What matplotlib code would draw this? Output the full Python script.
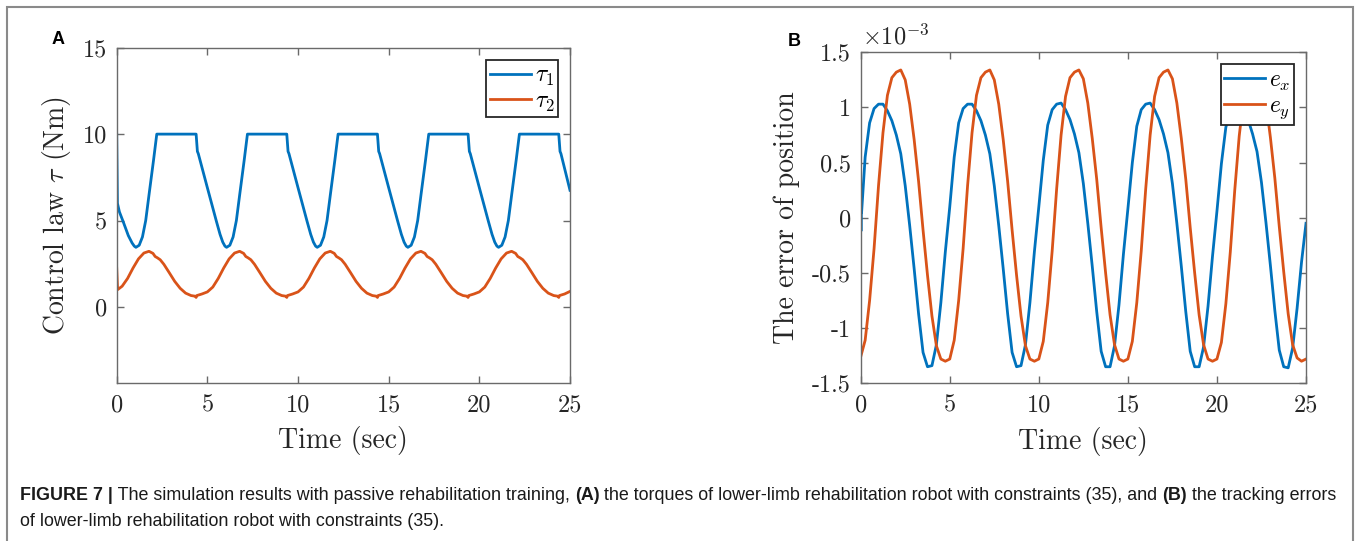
import numpy as np
import matplotlib.pyplot as plt
from matplotlib import font_manager
from matplotlib.patches import Rectangle

plt.rcParams['mathtext.fontset'] = 'cm'
plt.rcParams['axes.unicode_minus'] = False

BLUE = '#0072BD'
ORANGE = '#D95319'
AXIS_GRAY = '#6a6a6a'
TEXT_COLOR = '#262626'

# ---- panel A: control law (Nm) ----
t_tau1 = [0, 0.04, 0.15, 0.37, 0.64, 0.85, 0.97, 1.06, 1.24, 1.42, 1.6, 1.79, 2.03, 2.21,
          4.38, 4.45, 4.5, 5.0, 5.5, 5.7, 5.85, 5.97, 6.06, 6.24, 6.42, 6.6, 6.79, 7.03, 7.21,
          9.38, 9.45, 9.5, 10.0, 10.5, 10.7, 10.85, 10.97, 11.06, 11.24, 11.42, 11.6, 11.79, 12.03, 12.21,
          14.38, 14.45, 14.5, 15.0, 15.5, 15.7, 15.85, 15.97, 16.06, 16.24, 16.42, 16.6, 16.79, 17.03, 17.21,
          19.38, 19.45, 19.5, 20.0, 20.5, 20.7, 20.85, 20.97, 21.06, 21.24, 21.42, 21.6, 21.79, 22.03, 22.21,
          24.38, 24.45, 24.5, 25.0]
tau1 = [10, 6.0, 5.5, 4.9, 4.13, 3.7, 3.52, 3.45, 3.57, 4.05, 5.0, 6.55, 8.48, 10,
        10, 9.0, 8.87, 6.9, 4.95, 4.2, 3.75, 3.52, 3.45, 3.57, 4.05, 5.0, 6.55, 8.48, 10,
        10, 9.0, 8.87, 6.9, 4.95, 4.2, 3.75, 3.52, 3.45, 3.57, 4.05, 5.0, 6.55, 8.48, 10,
        10, 9.0, 8.87, 6.9, 4.95, 4.2, 3.75, 3.52, 3.45, 3.57, 4.05, 5.0, 6.55, 8.48, 10,
        10, 9.0, 8.87, 6.9, 4.95, 4.2, 3.75, 3.52, 3.45, 3.57, 4.05, 5.0, 6.55, 8.48, 10,
        10, 9.0, 8.87, 6.75]

t_tau2 = [0, 0.05, 0.3, 0.6, 0.9, 1.2, 1.5, 1.78, 2.0, 2.12, 2.25, 2.4, 2.6, 2.9, 3.2, 3.5, 3.8, 4.1,
          4.34, 4.38, 4.42, 4.7, 5.0, 5.3, 5.6, 5.9, 6.2, 6.5, 6.78, 7.0, 7.12, 7.25, 7.4, 7.6, 7.9, 8.2, 8.5, 8.8, 9.1,
          9.34, 9.38, 9.42, 9.7, 10.0, 10.3, 10.6, 10.9, 11.2, 11.5, 11.78, 12.0, 12.12, 12.25, 12.4, 12.6, 12.9, 13.2, 13.5, 13.8, 14.1,
          14.34, 14.38, 14.42, 14.7, 15.0, 15.3, 15.6, 15.9, 16.2, 16.5, 16.78, 17.0, 17.12, 17.25, 17.4, 17.6, 17.9, 18.2, 18.5, 18.8, 19.1,
          19.34, 19.38, 19.42, 19.7, 20.0, 20.3, 20.6, 20.9, 21.2, 21.5, 21.78, 22.0, 22.12, 22.25, 22.4, 22.6, 22.9, 23.2, 23.5, 23.8, 24.1,
          24.34, 24.38, 24.42, 24.7, 25.0]
tau2 = [2.25, 1.0, 1.2, 1.65, 2.25, 2.78, 3.12, 3.22, 3.1, 2.92, 2.84, 2.73, 2.47, 1.98, 1.48, 1.08, 0.8, 0.66,
        0.62, 0.55, 0.66, 0.75, 0.87, 1.15, 1.65, 2.25, 2.78, 3.12, 3.22, 3.1, 2.92, 2.84, 2.73, 2.47, 1.98, 1.48, 1.08, 0.8, 0.66,
        0.62, 0.55, 0.66, 0.75, 0.87, 1.15, 1.65, 2.25, 2.78, 3.12, 3.22, 3.1, 2.92, 2.84, 2.73, 2.47, 1.98, 1.48, 1.08, 0.8, 0.66,
        0.62, 0.55, 0.66, 0.75, 0.87, 1.15, 1.65, 2.25, 2.78, 3.12, 3.22, 3.1, 2.92, 2.84, 2.73, 2.47, 1.98, 1.48, 1.08, 0.8, 0.66,
        0.62, 0.55, 0.66, 0.75, 0.87, 1.15, 1.65, 2.25, 2.78, 3.12, 3.22, 3.1, 2.92, 2.84, 2.73, 2.47, 1.98, 1.48, 1.08, 0.8, 0.66,
        0.62, 0.55, 0.66, 0.75, 0.9]

# ---- panel B: position error (x 1e-3), sampled every 0.25 s ----
t_err = np.linspace(0, 25, 101)
ex = [0.10, 0.55, 0.86, 0.99, 1.03, 1.03, 0.97, 0.88, 0.75, 0.58, 0.29, -0.07, -0.46, -0.87, -1.22, -1.35, -1.34, -1.15, -0.77, -0.31,
      0.10, 0.55, 0.86, 0.99, 1.03, 1.03, 0.97, 0.88, 0.75, 0.58, 0.29, -0.07, -0.46, -0.87, -1.22, -1.35, -1.34, -1.15, -0.77, -0.31,
      0.10, 0.52, 0.84, 0.98, 1.03, 1.04, 0.98, 0.89, 0.76, 0.59, 0.31, -0.05, -0.44, -0.85, -1.21, -1.35, -1.35, -1.16, -0.79, -0.33,
      0.08, 0.50, 0.83, 0.98, 1.03, 1.04, 0.98, 0.89, 0.76, 0.59, 0.31, -0.05, -0.44, -0.85, -1.21, -1.35, -1.35, -1.17, -0.80, -0.35,
      0.06, 0.49, 0.82, 0.97, 1.03, 1.04, 0.98, 0.89, 0.76, 0.60, 0.32, -0.04, -0.43, -0.84, -1.20, -1.35, -1.36, -1.18, -0.82, -0.40,
      -0.05]
ey = [-1.26, -1.11, -0.75, -0.28, 0.29, 0.77, 1.11, 1.27, 1.32, 1.34, 1.25, 1.03, 0.71, 0.33, -0.11, -0.52, -0.89, -1.16, -1.28, -1.30,
      -1.28, -1.11, -0.75, -0.28, 0.29, 0.77, 1.11, 1.27, 1.32, 1.34, 1.25, 1.03, 0.71, 0.33, -0.11, -0.52, -0.89, -1.16, -1.28, -1.30,
      -1.28, -1.12, -0.77, -0.30, 0.26, 0.75, 1.10, 1.27, 1.32, 1.34, 1.26, 1.04, 0.72, 0.35, -0.09, -0.50, -0.88, -1.15, -1.28, -1.30,
      -1.28, -1.12, -0.77, -0.30, 0.26, 0.75, 1.10, 1.27, 1.32, 1.34, 1.26, 1.04, 0.72, 0.35, -0.09, -0.50, -0.88, -1.15, -1.28, -1.30,
      -1.28, -1.13, -0.78, -0.31, 0.25, 0.74, 1.09, 1.26, 1.32, 1.34, 1.26, 1.05, 0.73, 0.36, -0.08, -0.49, -0.87, -1.15, -1.27, -1.30,
      -1.28]
ex_start_t = [0.0, 0.015, 0.03, 0.05]
ex_start = [0.2, -0.12, 0.15, 0.05]

x_ticks = [0, 5, 10, 15, 20, 25]
a_yticks = [0, 5, 10, 15]
b_yticks = [-1.5, -1, -0.5, 0, 0.5, 1, 1.5]

TICK_SIZE = 17.5
LABEL_SIZE = 20

W, H = 1360, 541
fig = plt.figure(figsize=(W / 100, H / 100), dpi=100)


def px_box(left, top, right, bottom):
    """ pixel box (from top-left) -> figure fraction rect """
    return [left / W, 1 - bottom / H, (right - left) / W, (bottom - top) / H]


def style_axes(ax, yticks, ylabels):
    for s in ax.spines.values():
        s.set_color(AXIS_GRAY)
        s.set_linewidth(1.0)
    ax.tick_params(direction='in', top=True, right=True, length=5, width=1.0, color=AXIS_GRAY)
    ax.tick_params(axis='x', pad=8)
    ax.tick_params(axis='y', pad=7)
    ax.set_xlim(0, 25)
    ax.set_xticks(x_ticks, labels=[f'{v:g}' for v in x_ticks],
                  fontfamily='cmr10', fontsize=TICK_SIZE, color=TEXT_COLOR)
    ax.set_yticks(yticks, labels=ylabels, fontfamily='cmr10', fontsize=TICK_SIZE, color=TEXT_COLOR)
    ax.set_xlabel('Time (sec)', fontfamily='cmr10', fontsize=LABEL_SIZE, color=TEXT_COLOR)


# panel A
ax_a = fig.add_axes(px_box(116.7, 47.7, 570, 383))
ax_a.plot(t_tau1, tau1, color=BLUE, lw=2.0, label=r'$\tau_1$')
ax_a.plot(t_tau2, tau2, color=ORANGE, lw=2.0, label=r'$\tau_2$')
ax_a.set_ylim(-4.4, 15)
style_axes(ax_a, a_yticks, [f'{v:g}' for v in a_yticks])
ax_a.set_ylabel(r'Control law $\tau$ (Nm)', fontfamily='cmr10', fontsize=LABEL_SIZE, color=TEXT_COLOR)
ax_a.yaxis.set_label_coords(-0.097, 0.5)
ax_a.xaxis.set_label_coords(0.5, -0.128)
ax_a.xaxis.label.set_va('top')

# panel B
ax_b = fig.add_axes(px_box(860.7, 52.3, 1306, 383.3))
ax_b.plot(ex_start_t + list(t_err[1:]), ex_start + ex[1:], color=BLUE, lw=2.0, label=r'$e_x$')
ax_b.plot(t_err, ey, color=ORANGE, lw=2.0, label=r'$e_y$')
ax_b.set_ylim(-1.5, 1.5)
style_axes(ax_b, b_yticks, [f'{v:g}' for v in b_yticks])
ax_b.set_ylabel('The error of position', fontfamily='cmr10', fontsize=LABEL_SIZE, color=TEXT_COLOR)
ax_b.yaxis.set_label_coords(-0.136, 0.5)
ax_b.xaxis.set_label_coords(0.5, -0.132)
ax_b.xaxis.label.set_va('top')
ax_b.text(0.003, 1.01, r'$\times 10^{-3}$', transform=ax_b.transAxes,
          fontsize=TICK_SIZE, color=TEXT_COLOR, ha='left', va='bottom')

for ax in (ax_a, ax_b):
    leg = ax.legend(loc='upper right', fontsize=17, frameon=True, fancybox=False,
                    edgecolor='#262626', framealpha=1, handlelength=1.75, handletextpad=0.15,
                    borderaxespad=0.5, borderpad=0.15, labelspacing=0.02)
    leg.get_frame().set_linewidth(1.3)

# panel letters
fig.text(58.5 / W, 1 - 39 / H, 'A', fontsize=13, fontweight='bold', family='Liberation Sans',
         ha='center', va='center', color='black')
fig.text(794.5 / W, 1 - 42 / H, 'B', fontsize=13, fontweight='bold', family='Liberation Sans',
         ha='center', va='center', color='black')

# outer frame
fig.patches.append(Rectangle((7 / W, -0.05), (1353 - 7) / W, 1.05 - 7 / H, transform=fig.transFigure,
                             fill=False, edgecolor='#8a8a8a', linewidth=1.5))

# caption
names = {f.name for f in font_manager.fontManager.ttflist}
cap_family = 'Liberation Sans Narrow' if 'Liberation Sans Narrow' in names else 'Liberation Sans'
line1 = [('FIGURE 7 |', 'bold'), (' The simulation results with passive rehabilitation training, ', 'normal'),
         ('(A)', 'bold'), (' the torques of lower-limb rehabilitation robot with constraints (35), and ', 'normal'),
         ('(B)', 'bold'), (' the tracking errors', 'normal')]
line2 = [('of lower-limb rehabilitation robot with constraints (35).', 'normal')]

renderer = fig.canvas.get_renderer()


def seg_width(text, size, weight):
    # measure with guard characters so spaces are counted
    t = fig.text(0, 0, '|' + text + '|', fontsize=size, fontweight=weight, family=cap_family)
    g = fig.text(0, 0, '||', fontsize=size, fontweight=weight, family=cap_family)
    w = t.get_window_extent(renderer).width - g.get_window_extent(renderer).width
    t.remove()
    g.remove()
    return w


size = 12
total = sum(seg_width(s, size, wt) for s, wt in line1)
size = size * (1340 - 20) / total


def draw_line(segments, y):
    x = 20
    for s, wt in segments:
        fig.text(x / W, 1 - y / H, s, fontsize=size, fontweight=wt, family=cap_family,
                 ha='left', va='center', color='#1a1a1a')
        x += seg_width(s, size, wt)


draw_line(line1, 496)
draw_line(line2, 521)

fig.savefig('out.png', dpi=100)
